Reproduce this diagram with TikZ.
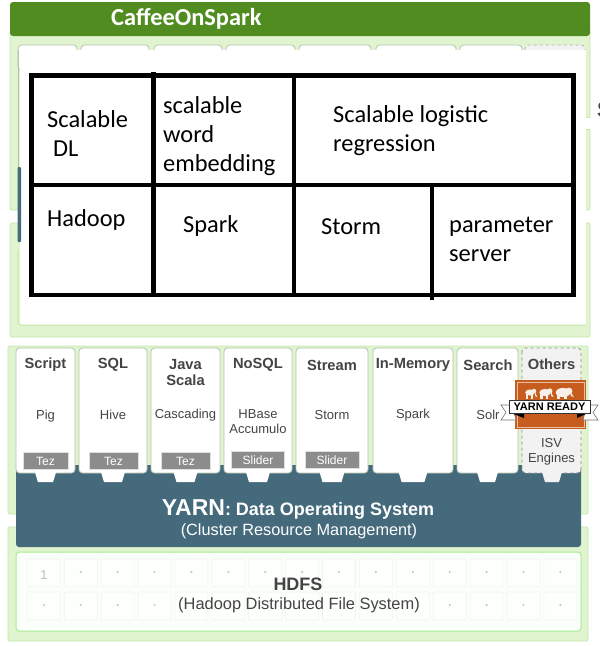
\documentclass[tikz,border=0pt]{standalone}
\usepackage{fontspec}
\setmainfont{Liberation Sans}
\newfontfamily\calibrifont{Carlito}
\definecolor{panelgreen}{HTML}{E1F4D0}
\definecolor{paneledge}{HTML}{C4E8AC}
\definecolor{headgreen}{HTML}{508C1F}
\definecolor{yarnblue}{HTML}{456A7C}
\definecolor{tabedge}{HTML}{B4C4AC}
\definecolor{labelgray}{HTML}{444444}
\definecolor{badgeorange}{HTML}{C65C1E}
\tikzset{
  panel/.style={fill=panelgreen,draw=paneledge,line width=0.8pt,rounded corners=1.5pt},
  tabbox/.style={fill=white,draw=tabedge,line width=0.8pt,rounded corners=3.5pt},
  tezbox/.style={fill=black!45,draw=black!12,line width=0.8pt,text=white,font=\fontsize{12}{12}\selectfont,inner sep=0pt},
  tabtitle/.style={text=labelgray,font=\bfseries\fontsize{14.7}{16}\selectfont,align=center,inner sep=0pt},
  tabsub/.style={text=labelgray,font=\fontsize{13}{15}\selectfont,align=center,inner sep=0pt},
  celltext/.style={anchor=base west,inner sep=0pt,font=\calibrifont\fontsize{24.4}{24.4}\selectfont},
  gridline/.style={black,line width=4.8pt},
  hdfscell/.style={fill=white!60!green!3,draw=black!5,line width=0.6pt,rounded corners=1pt},
  ribbontail/.style={fill=white,draw=black!55,line width=0.6pt}
}
\begin{document}
\begin{tikzpicture}[x=1pt,y=-1pt]
\useasboundingbox (0,0) rectangle (600,646);
\fill[white] (0,0) rectangle (600,646);

% Lower panels
\draw[panel] (8,346) rectangle (588,514);
\draw[panel] (8,527) rectangle (588,641);

% Upper panels, the right side has one more gap
\draw[panel] (10,30) rectangle (590,210);
\draw[panel] (10,223) rectangle (590,337);
\fill[white] (586,117) rectangle (592,129);
\draw[paneledge,line width=0.8pt] (586,117) -- (590,117);
\draw[paneledge,line width=0.8pt] (586,129) -- (590,129);

% Title bar
\fill[headgreen,rounded corners=3pt] (10,2) rectangle (590,36);
\node[anchor=base west,inner sep=0pt,text=white,font=\calibrifont\bfseries\fontsize{24.4}{24.4}\selectfont] (title) at (111,25) {CaffeeOnSpark};

% Tab tops showing above the cover
\foreach \xa/\xb in {18/77,81/149,154/222,226/295,299/371,376/456,460/522}
  \draw[tabbox] (\xa,45) rectangle (\xb,70);
\draw[tabbox,fill=black!5,draw=black!30,dashed] (525,45) rectangle (585,70);

% White cover
\fill[white] (20,50) rectangle (586,325);
\draw[paneledge,line width=1pt,rounded corners=3pt] (18,250) -- (18,325) -- (586,325);
\draw[tabedge,line width=0.8pt] (18,50) -- (18,167);
\fill[yarnblue,rounded corners=1pt] (17.5,167) rectangle (21,242);

% Stray letter at the page edge
\node[anchor=base west,inner sep=0pt,text=labelgray,font=\bfseries\fontsize{22}{22}\selectfont] (edge) at (597,117) {S};

% Table
\draw[gridline] (31.7,75.8) rectangle (573.5,295);
\draw[gridline] (31.7,185) -- (573.5,185);
\draw[gridline] (153.5,71.5) -- (153.5,295);
\draw[gridline] (294,75.8) -- (294,295);
\draw[gridline] (432,185) -- (432,299.5);

% Table texts
\node[celltext] (dl) at (47,127) {Scalable};
\node[celltext] (dlb) at (53,156) {DL};
\node[celltext] (worda) at (163,113) {scalable};
\node[celltext] (wordb) at (163,142) {word};
\node[celltext] (wordc) at (163,171) {embedding};
\node[celltext] (loga) at (333,122) {Scalable logistic};
\node[celltext] (logb) at (333,151) {regression};
\node[celltext] (hadoop) at (47,226) {Hadoop};
\node[celltext] (spark) at (183,232) {Spark};
\node[celltext] (storm) at (321,234) {Storm};
\node[celltext] (parama) at (449,232) {parameter};
\node[celltext] (paramb) at (449,261) {server};

% YARN block
\fill[yarnblue,rounded corners=3pt] (16,465) rectangle (581,547);

% Tabs and their notches
\foreach \xa/\xb/\nh in {16/75/10.6,79/147/12,151/220/12,224/292/12,296/368/12.5,373/453/14.4,457/518/10.5}{
  \draw[tabbox] (\xa,348) rectangle (\xb,473);
  \fill[white] ({(\xa+\xb)/2-\nh},472) -- ({(\xa+\xb)/2+\nh},472) -- ({(\xa+\xb)/2+\nh-3},482) -- ({(\xa+\xb)/2-\nh+3},482) -- cycle;
}
\draw[tabbox,fill=black!5,draw=black!45,dashed] (522,348) rectangle (581,473);
\fill[black!5] (542,472) -- (562,472) -- (559,482) -- (545,482) -- cycle;

% Tab labels
\node[tabtitle] (script) at (45.5,365) {Script};
\node[tabtitle] (sql) at (113,365) {SQL};
\node[tabtitle] (java) at (185.5,373) {Java\\Scala};
\node[tabtitle] (nosql) at (258,365) {NoSQL};
\node[tabtitle] (stream) at (332,365) {Stream};
\node[tabtitle] (memory) at (413,365) {In-Memory};
\node[tabtitle] (search) at (488,365) {Search};
\node[tabtitle] (others) at (551.5,364) {Others};

\node[tabsub] (pig) at (45.5,416) {Pig};
\node[tabsub] (hive) at (113,415) {Hive};
\node[tabsub] (cascading) at (185.5,415) {Cascading};
\node[tabsub] (hbase) at (258,422) {HBase\\Accumulo};
\node[tabsub] (stormb) at (332,415) {Storm};
\node[tabsub] (sparkb) at (413,415) {Spark};
\node[tabsub] (solr) at (488,415) {Solr};
\node[tabsub] (isv) at (551.5,452) {ISV\\Engines};

\node[tezbox,minimum width=45pt,minimum height=17pt] (teza) at (45.5,461) {Tez};
\node[tezbox,minimum width=49pt,minimum height=17pt] (tezb) at (113.5,461) {Tez};
\node[tezbox,minimum width=49pt,minimum height=17pt] (tezc) at (185.5,461) {Tez};
\node[tezbox,minimum width=53pt,minimum height=17pt] (slidera) at (258,460) {Slider};
\node[tezbox,minimum width=54pt,minimum height=17pt] (sliderb) at (332,460) {Slider};

% YARN READY badge
\fill[badgeorange] (515,380) rectangle (586,429);
\draw[white!60!badgeorange,line width=1pt] (517,382) rectangle (584,427);
\foreach \ex/\es in {530/0.8,545/0.95,563/1.2}{
  \fill[white!90!badgeorange] (\ex,392.5) ellipse ({6*\es} and {3.8*\es});
  \fill[white!90!badgeorange] ({\ex+5*\es},391) circle ({2.8*\es});
  \fill[white!90!badgeorange] ({\ex+6*\es},391) -- ({\ex+9*\es},397) -- ({\ex+6.5*\es},396) -- cycle;
  \fill[white!90!badgeorange] ({\ex-5*\es},394) rectangle ({\ex-2.5*\es},398.5);
  \fill[white!90!badgeorange] ({\ex+1*\es},394) rectangle ({\ex+3.5*\es},398.5);
}
\draw[ribbontail] (512,405) -- (501,405) -- (506,412.5) -- (501,420) -- (516,420) -- cycle;
\draw[ribbontail] (587,405) -- (598,405) -- (593,412.5) -- (598,420) -- (583,420) -- cycle;
\fill[black] (511,413) -- (524,413) -- (524,418) -- cycle;
\fill[black] (588,413) -- (577,413) -- (577,418) -- cycle;
\node[fill=white,draw=black!80,line width=0.8pt,minimum width=81pt,minimum height=13pt,inner sep=0pt,font=\bfseries\fontsize{11}{11}\selectfont] (ready) at (549.5,406.5) {YARN READY};

% YARN text
\node[anchor=base,inner sep=0pt,text=white,font=\bfseries\fontsize{18}{18}\selectfont] (yarn) at (298,515) {{\fontsize{23}{23}\selectfont YARN}: Data Operating System};
\node[anchor=base,inner sep=0pt,text=white,font=\fontsize{16.3}{16.3}\selectfont] (cluster) at (299,535) {(Cluster Resource Management)};

% HDFS
\draw[fill=green!2!white,draw=paneledge!85!green,line width=1pt,rounded corners=3pt] (16,552) rectangle (581,631);
\foreach \i in {0,...,14}{
  \draw[hdfscell] ({27.3+36.9*\i},559) rectangle ({60.3+36.9*\i},587);
  \draw[hdfscell] ({27.3+36.9*\i},592) rectangle ({60.3+36.9*\i},620);
}
\foreach \i in {1,...,14}
  \fill[black!22] ({43.8+36.9*\i},572) circle (1.2pt);
\foreach \i in {0,1,2,3,11,12,13,14}
  \fill[black!22] ({43.8+36.9*\i},605) circle (1.2pt);
\node[text=black!25,inner sep=0pt,font=\fontsize{13}{13}\selectfont] (one) at (44,575) {1};
\node[anchor=base,inner sep=0pt,text=labelgray,font=\bfseries\fontsize{18}{18}\selectfont] (hdfs) at (298,590) {HDFS};
\node[anchor=base,inner sep=0pt,text=labelgray,font=\fontsize{16.4}{16.4}\selectfont] (hdfsb) at (299,609) {(Hadoop Distributed File System)};
\end{tikzpicture}
\end{document}
